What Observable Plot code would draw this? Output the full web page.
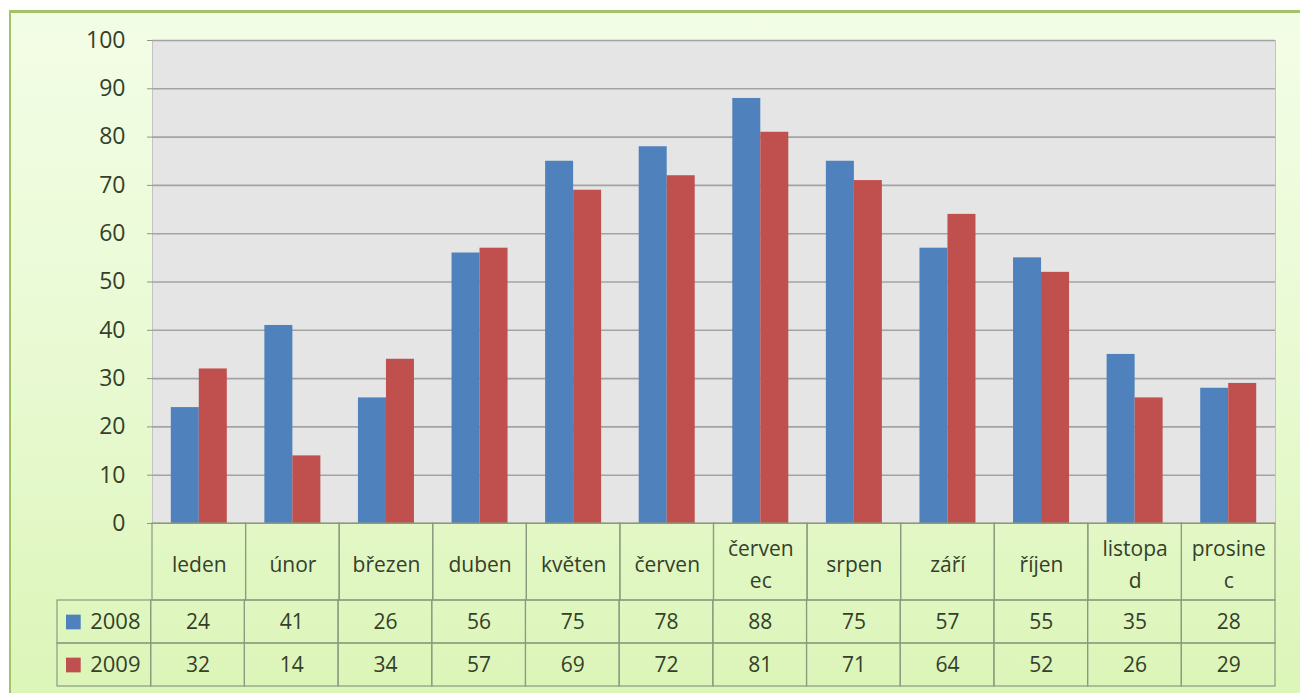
<!DOCTYPE html>
<html>
<head>
<meta charset="utf-8">
<script src="https://cdn.jsdelivr.net/npm/d3@7"></script>
<script src="https://cdn.jsdelivr.net/npm/@observablehq/plot@0.6"></script>
<style>
  html, body { margin: 0; padding: 0; background: #ffffff; }
  #root { position: relative; width: 1300px; height: 693px; overflow: hidden; background: #ffffff; }
  #bg { position: absolute; left: 9px; top: 10px; width: 1291px; height: 683px;
        border-left: 2px solid #a3c466; border-top: 3px solid #a3c466; box-sizing: border-box;
        background: linear-gradient(#f3fde6, #e9fad3 50%, #dcf5b8); }
  .layer { position: absolute; left: 0; }
  .layer svg { overflow: visible; background: transparent; }
</style>
</head>
<body>
<div id="root"><div id="bg"></div></div>
<script>
// ---- data ----
const months = ["leden", "únor", "březen", "duben", "květen", "červen", "červenec", "srpen", "září", "říjen", "listopad", "prosinec"];
const monthLabels = ["leden", "únor", "březen", "duben", "květen", "červen", "červen\nec", "srpen", "září", "říjen", "listopa\nd", "prosine\nc"];
const series = ["2008", "2009"];
const values2008 = [24, 41, 26, 56, 75, 78, 88, 75, 57, 55, 35, 28];
const values2009 = [32, 14, 34, 57, 69, 72, 81, 71, 64, 52, 26, 29];
const yTicks = [0, 10, 20, 30, 40, 50, 60, 70, 80, 90, 100];

// ---- styling ----
const W = 1300;
const mL = 152, mR = 25;
const colors = {"2008": "#4f81bd", "2009": "#c0504d"};
const textColor = "#34402a";
const gridColor = "#a3a3a3";
const cellStroke = "#8c9a80";
const font = "'Open Sans', sans-serif";
const bandW = (W - mL - mR) / months.length;
const barW = 28;
const outer = (bandW - 2 * barW) / 2;

const rows2008 = months.map((m, i) => ({month: m, series: "2008", value: values2008[i]}));
const rows2009 = months.map((m, i) => ({month: m, series: "2009", value: values2009[i]}));
const valueBySeries = {"2008": values2008, "2009": values2009};

const root = document.getElementById("root");
function place(el, top) {
  const d = document.createElement("div");
  d.className = "layer";
  d.style.top = top + "px";
  d.appendChild(el);
  root.appendChild(d);
}

// ---- chart ----
const chart = Plot.plot({
  width: W, height: 533,
  marginLeft: mL, marginRight: mR, marginTop: 40, marginBottom: 10,
  style: {fontFamily: font, background: "transparent", overflow: "visible"},
  x: {domain: months, padding: 0, round: false, axis: null},
  y: {domain: [0, 100], axis: null},
  marks: [
    Plot.frame({fill: "#e5e5e5", stroke: "#c4c4c4"}),
    Plot.ruleY(yTicks.filter(d => d > 0), {stroke: gridColor, strokeWidth: 1.6}),
    Plot.axisY({ticks: yTicks, label: null, tickSize: 5, tickPadding: 22, fontSize: 23, fill: textColor, stroke: cellStroke, tickFormat: d => String(d)}),
    Plot.barY(rows2008, {x: "month", y: "value", fill: colors["2008"], insetLeft: outer, insetRight: outer + barW}),
    Plot.barY(rows2009, {x: "month", y: "value", fill: colors["2009"], insetLeft: outer + barW, insetRight: outer}),
    Plot.ruleY([0], {stroke: cellStroke, strokeWidth: 1.2})
  ]
});
place(chart, 0);

// ---- category row of the data table ----
const catRow = Plot.plot({
  width: W, height: 79,
  marginLeft: mL, marginRight: mR, marginTop: 1, marginBottom: 1,
  style: {fontFamily: font, background: "transparent", overflow: "visible"},
  x: {domain: months, padding: 0, round: false, axis: null},
  marks: [
    Plot.cell(months, {x: d => d, fill: "none", stroke: cellStroke, strokeWidth: 1.2}),
    Plot.text(months, {x: d => d, text: (d, i) => monthLabels[i], fontSize: 21, fill: textColor, lineHeight: 1.5, letterSpacing: "0.4px"})
  ]
});
place(catRow, 522);

// ---- value rows of the data table ----
const legendKey = "";
const tableCells = series.flatMap(s => [
  {col: legendKey, series: s, text: ""},
  ...months.map((m, i) => ({col: m, series: s, text: String(valueBySeries[s][i])}))
]);
const valueRows = Plot.plot({
  width: W, height: 88,
  marginLeft: 57, marginRight: mR, marginTop: 1, marginBottom: 1,
  style: {fontFamily: font, background: "transparent", overflow: "visible"},
  x: {domain: [legendKey, ...months], padding: 0, round: false, axis: null},
  y: {domain: series, padding: 0, round: false, axis: null},
  marks: [
    Plot.cell(tableCells, {x: "col", y: "series", fill: "none", stroke: cellStroke, strokeWidth: 1.2}),
    Plot.text(tableCells, {x: "col", y: "series", text: "text", fontSize: 21, fill: textColor, letterSpacing: "0.8px"}),
    Plot.dot(series, {x: () => legendKey, y: d => d, symbol: "square", r: 8.3, fill: d => colors[d], dx: -31}),
    Plot.text(series, {x: () => legendKey, y: d => d, text: d => d, dx: 11, fontSize: 22, fill: textColor, letterSpacing: "0.6px"})
  ]
});
place(valueRows, 599);
</script>
</body>
</html>
